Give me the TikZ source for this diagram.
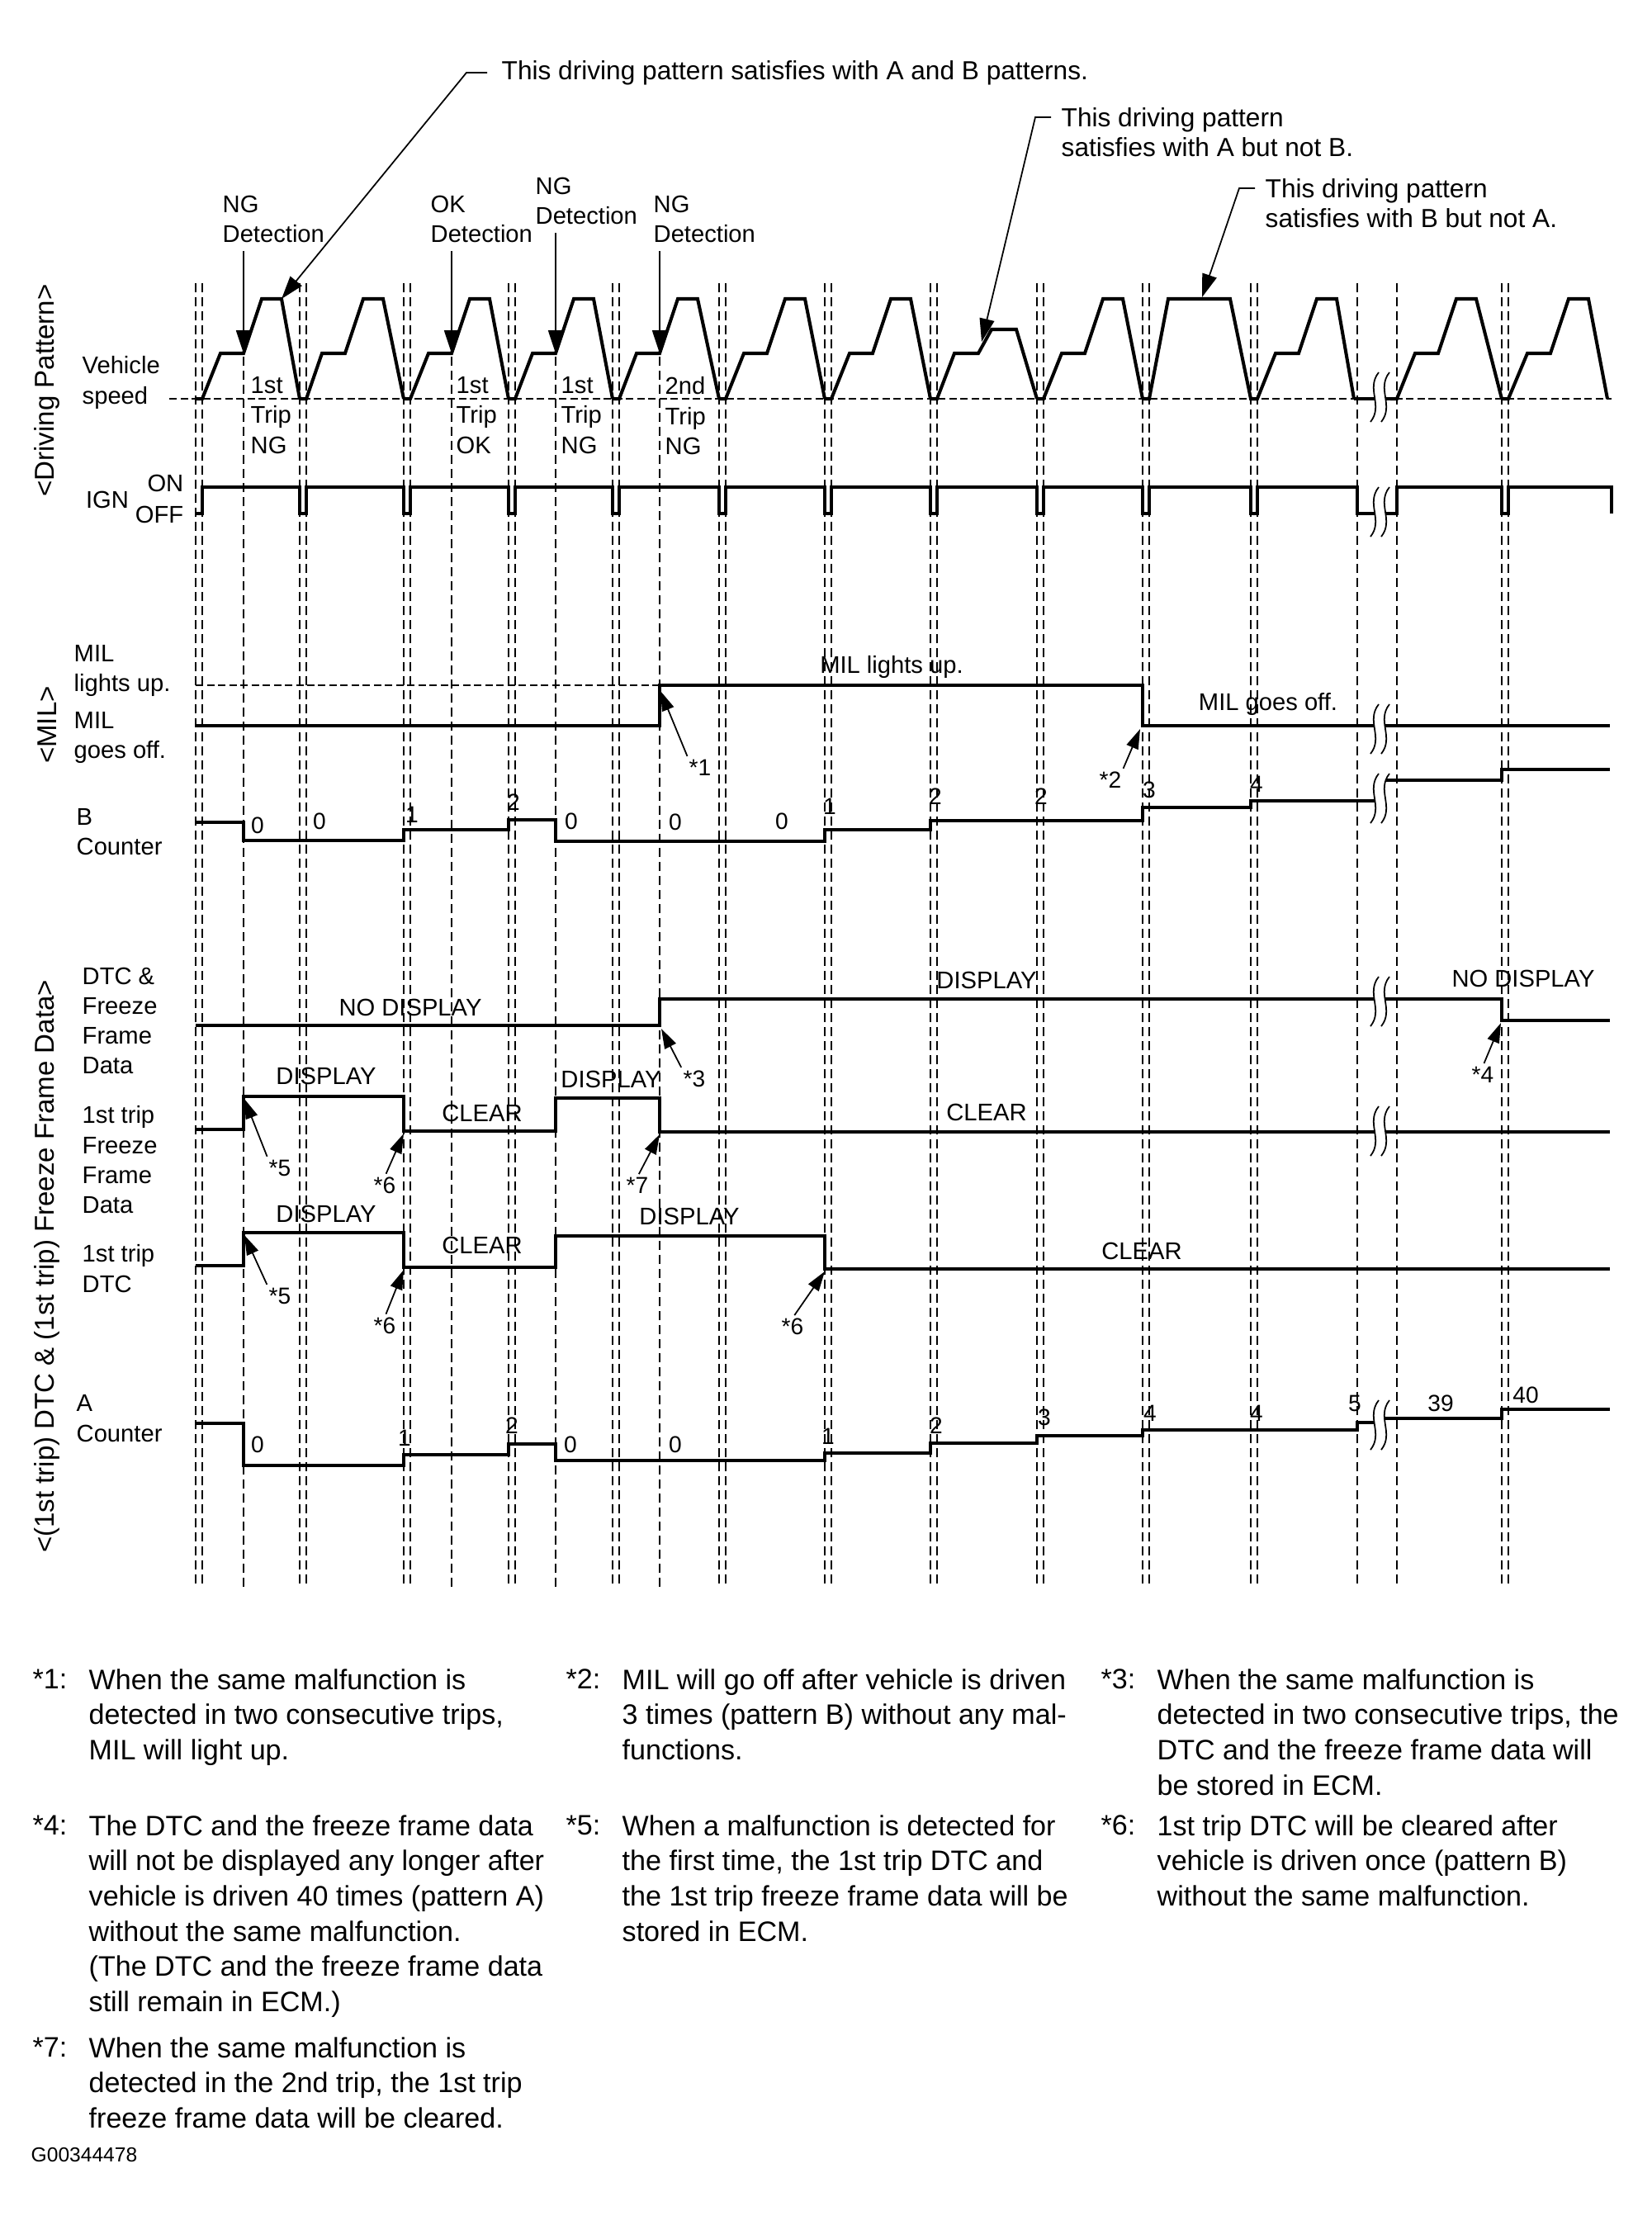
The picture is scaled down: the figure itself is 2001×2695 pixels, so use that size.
\documentclass[tikz,border=0pt]{standalone}
\usepackage{fontspec}
\setmainfont{Liberation Sans}
\usepackage{xcolor}
\usetikzlibrary{arrows.meta}
\definecolor{encre}{HTML}{000000}
\tikzset{
  signal/.style={line width=1.15pt, color=encre, line join=miter},
  repere/.style={line width=0.45pt, color=encre, dash pattern=on 1.1mm off 0.6mm},
  niveau/.style={line width=0.55pt, color=encre, dash pattern=on 0.9mm off 0.45mm},
  coupure/.style={line width=0.5pt, color=encre},
  fleche/.style={-{Triangle[length=2.8mm, width=1.8mm]}, line width=0.5pt, color=encre},
  flechefine/.style={-{Triangle[length=2.4mm, width=1.5mm]}, line width=0.5pt, color=encre},
  etiquette/.style={font=\fontsize{8.3}{10.3}\selectfont, text=encre, align=left, inner sep=0pt},
  valeur/.style={font=\fontsize{8}{10}\selectfont, text=encre, inner sep=0pt},
  legende/.style={font=\fontsize{9}{10.3}\selectfont, text=encre, align=left, inner sep=0pt},
  groupe/.style={font=\fontsize{9.4}{11}\selectfont, text=encre, rotate=90, inner sep=0pt},
  note/.style={font=\fontsize{9.7}{12.1}\selectfont, text=encre, align=left, inner sep=0pt, anchor=north west},
}

\begin{document}
\begin{tikzpicture}[x=0.1mm, y=-0.1mm]
    \useasboundingbox (0,0) rectangle (2001,2695);
    \fill[white] (0,0) rectangle (2001,2695);

    % Groupes
    \node[groupe] (gconduite) at (57,473) {<Driving Pattern>};
    \node[groupe] (gmil) at (57,878) {<MIL>};
    \node[groupe] (gdtc) at (57,1534) {<(1st trip) DTC \& (1st trip) Freeze Frame Data>};

    % Noms des lignes
    \node[etiquette, anchor=north west] (vitesse) at (99,431) {Vehicle\\speed};
    \node[etiquette] (ign) at (130,605) {IGN};
    \node[etiquette, anchor=east] (ignon) at (223,585) {ON};
    \node[etiquette, anchor=east] (ignoff) at (223,623) {OFF};
    \node[etiquette, anchor=north west] (milon) at (89,781) {MIL\\lights up.};
    \node[etiquette, anchor=north west] (miloff) at (89,862) {MIL\\goes off.};
    \node[etiquette, anchor=north west] (compteurb) at (92,979) {B\\Counter};
    \node[etiquette, anchor=north west] (dtc) at (99,1171) {DTC \&\\Freeze\\Frame\\Data};
    \node[etiquette, anchor=north west] (ffd) at (99,1339) {1st trip\\Freeze\\Frame\\Data};
    \node[etiquette, anchor=north west] (dtcun) at (99,1507) {1st trip\\DTC};
    \node[etiquette, anchor=north west] (compteura) at (92,1689) {A\\Counter};

    % Reperes verticaux
    \foreach \c in {241,367,493,620,746,875,1003,1131,1260,1388,1519,1823} {
      \draw[repere] (\c-4,343) -- (\c-4,1922);
      \draw[repere] (\c+4,343) -- (\c+4,1922);
    }
    \foreach \x in {295,547,673,799} \draw[repere] (\x,432) -- (\x,1922);
    \foreach \x in {1644,1692} \draw[repere] (\x,343) -- (\x,1922);

    % Vitesse du vehicule
    \draw[niveau] (205,483) -- (1952,483);
    \foreach \s/\m/\e in {245/295/363, 371/418/489, 497/547/616, 624/673/742, 750/799/871,
        879/929/999, 1007/1057/1127, 1264/1314/1384, 1523/1573/1640, 1692/1742/1819, 1827/1878/1947}
      \draw[signal] (\s-8,483) -- (\s,483) -- (\m-28,428) -- (\m,428) -- (\m+22,362) -- (\m+46,362) -- (\e,483);
    \draw[signal] (1127,483) -- (1135,483) -- (1156,428) -- (1185,428) -- (1201,399) -- (1231,399) -- (1256,483);
    \draw[signal] (1384,483) -- (1392,483) -- (1415,362) -- (1490,362) -- (1515,483) -- (1523,483);
    \draw[signal] (1640,483) -- (1692,483);

    % Contact
    \draw[signal] (237,622) -- (245,622) -- (245,590)
      \foreach \c in {367,493,620,746,875,1003,1131,1260,1388,1519} { -- (\c-4,590) -- (\c-4,622) -- (\c+4,622) -- (\c+4,590) }
      -- (1644,590) -- (1644,622) -- (1692,622) -- (1692,590) -- (1819,590) -- (1819,622)
      -- (1827,622) -- (1827,590) -- (1952,590) -- (1952,622);

    % MIL
    \draw[niveau] (237,830) -- (799,830);
    \draw[signal] (237,879) -- (799,879) -- (799,830) -- (1384,830) -- (1384,879) -- (1950,879);

    % Compteur B
    \draw[signal] (237,996) -- (295,996) -- (295,1018) -- (489,1018) -- (489,1005) -- (616,1005)
      -- (616,993) -- (673,993) -- (673,1019) -- (999,1019) -- (999,1005) -- (1127,1005) -- (1127,994)
      -- (1384,994) -- (1384,978) -- (1515,978) -- (1515,970) -- (1670,970) -- (1670,945)
      -- (1819,945) -- (1819,932) -- (1950,932);

    % DTC et donnees figees
    \draw[signal] (237,1242) -- (799,1242) -- (799,1210) -- (1819,1210) -- (1819,1236) -- (1950,1236);
    \draw[signal] (237,1368) -- (295,1368) -- (295,1328) -- (489,1328) -- (489,1370) -- (673,1370)
      -- (673,1330) -- (799,1330) -- (799,1371) -- (1950,1371);
    \draw[signal] (237,1533) -- (295,1533) -- (295,1493) -- (489,1493) -- (489,1535) -- (673,1535)
      -- (673,1497) -- (999,1497) -- (999,1537) -- (1950,1537);

    % Compteur A
    \draw[signal] (237,1724) -- (295,1724) -- (295,1775) -- (489,1775) -- (489,1762) -- (616,1762)
      -- (616,1749) -- (673,1749) -- (673,1769) -- (999,1769) -- (999,1760) -- (1127,1760) -- (1127,1748)
      -- (1256,1748) -- (1256,1739) -- (1384,1739) -- (1384,1732) -- (1644,1732) -- (1644,1723)
      -- (1670,1723) -- (1670,1718) -- (1819,1718) -- (1819,1707) -- (1950,1707);

    % Coupures
    \foreach \y in {481,620,883,967,1213,1370,1726} {
      \fill[white] (1670,\y-30) .. controls (1654,\y-10) and (1676,\y+10) .. (1660,\y+30)
        -- (1673,\y+30) .. controls (1689,\y+10) and (1667,\y-10) .. (1683,\y-30) -- cycle;
      \draw[coupure] (1670,\y-30) .. controls (1654,\y-10) and (1676,\y+10) .. (1660,\y+30);
      \draw[coupure] (1683,\y-30) .. controls (1667,\y-10) and (1689,\y+10) .. (1673,\y+30);
    }

    % Valeurs des compteurs
    \foreach \x/\y/\v [count=\i] in {312/1000/0, 387/995/0, 499/987/1, 622/972/2, 692/995/0, 818/996/0,
        947/995/0, 1005/977/1, 1133/965/2, 1261/965/2, 1392/957/3, 1522/950/4}
      \node[valeur] (b\i) at (\x,\y) {\v};
    \foreach \x/\y/\v [count=\i] in {312/1750/0, 490/1742/1, 620/1727/2, 691/1750/0, 818/1750/0,
        1003/1740/1, 1134/1727/2, 1265/1717/3, 1393/1712/4, 1522/1712/4, 1641/1700/5, 1745/1700/39, 1848/1690/40}
      \node[valeur] (a\i) at (\x,\y) {\v};

    % Etats
    \node[etiquette] (lumon) at (1080,808) {MIL lights up.};
    \node[etiquette] (lumoff) at (1536,853) {MIL goes off.};
    \node[etiquette] (dtc1) at (497,1220) {NO DISPLAY};
    \node[etiquette] (dtc2) at (1195,1187) {DISPLAY};
    \node[etiquette] (dtc3) at (1845,1185) {NO DISPLAY};
    \node[etiquette] (ffd1) at (395,1303) {DISPLAY};
    \node[etiquette] (ffd2) at (584,1348) {CLEAR};
    \node[etiquette] (ffd3) at (740,1307) {DISPLAY};
    \node[etiquette] (ffd4) at (1195,1347) {CLEAR};
    \node[etiquette] (dun1) at (395,1470) {DISPLAY};
    \node[etiquette] (dun2) at (584,1508) {CLEAR};
    \node[etiquette] (dun3) at (835,1473) {DISPLAY};
    \node[etiquette] (dun4) at (1383,1515) {CLEAR};

    % Trajets
    \node[etiquette, anchor=north west] (trajet1) at (303,456) {1st\\Trip\\NG};
    \node[etiquette, anchor=north west] (trajet2) at (552,456) {1st\\Trip\\OK};
    \node[etiquette, anchor=north west] (trajet3) at (679,456) {1st\\Trip\\NG};
    \node[etiquette, anchor=north west] (trajet4) at (805,456) {2nd\\Trip\\NG};

    % Detections
    \node[etiquette, anchor=north west] (ng1) at (269,236) {NG\\Detection};
    \node[etiquette, anchor=north west] (ok1) at (521,236) {OK\\Detection};
    \node[etiquette, anchor=north west] (ng2) at (648,214) {NG\\Detection};
    \node[etiquette, anchor=north west] (ng3) at (791,236) {NG\\Detection};
    \foreach \n/\x in {ng1/295, ok1/547, ng2/673, ng3/799} {
      \coordinate (p\n) at (\x,428);
      \draw[fleche, shorten <=1mm] (\n.south -| p\n) -- (p\n);
    }

    % Motifs de conduite
    \node[legende, anchor=west] (motifab) at (607,88) {This driving pattern satisfies with A and B patterns.};
    \coordinate (pointeab) at (341,362);
    \draw[fleche] ([xshift=-1.7mm]motifab.west) -- ++(-2.5mm,0) -- (pointeab);
    \node[legende, anchor=north west] (motifa) at (1285,130) {This driving pattern\\satisfies with A but not B.};
    \coordinate (pointea) at (1189,414);
    \draw[fleche] ([shift={(-1.2mm,-1.2mm)}]motifa.north west) -- ++(-1.9mm,0) -- (pointea);
    \node[legende, anchor=north west] (motifb) at (1532,216) {This driving pattern\\satisfies with B but not A.};
    \coordinate (pointeb) at (1456,360);
    \draw[fleche] ([shift={(-1.2mm,-1.2mm)}]motifb.north west) -- ++(-1.9mm,0) -- (pointeb);

    % Renvois
    \foreach \n/\x/\y/\t/\px/\py/\a in {e1/848/930/*1/800/837/north west, e2/1345/945/*2/1381/883/north east,
        e3/841/1307/*3/801/1246/north west, e4/1796/1302/*4/1818/1239/north,
        e5/339/1415/*5/296/1331/north west, e6/466/1436/*6/489/1373/north,
        e7/772/1436/*7/799/1374/north, e8/339/1570/*5/296/1496/north west,
        e9/466/1606/*6/489/1538/north, e10/960/1607/*6/999/1540/north} {
      \node[valeur] (\n) at (\x,\y) {\t};
      \coordinate (c\n) at (\px,\py);
      \draw[flechefine, shorten <=0.4mm] (\n.\a) -- (c\n);
    }

    % Notes
    \node[note] (n1) at (107,2021) {When the same malfunction is\\detected in two consecutive trips,\\MIL will light up.};
    \node[note] (n2) at (753,2021) {MIL will go off after vehicle is driven\\3 times (pattern B) without any mal-\\functions.};
    \node[note] (n3) at (1401,2021) {When the same malfunction is\\detected in two consecutive trips, the\\DTC and the freeze frame data will\\be stored in ECM.};
    \node[note] (n4) at (107,2198) {The DTC and the freeze frame data\\will not be displayed any longer after\\vehicle is driven 40 times (pattern A)\\without the same malfunction.\\(The DTC and the freeze frame data\\still remain in ECM.)};
    \node[note] (n5) at (753,2198) {When a malfunction is detected for\\the first time, the 1st trip DTC and\\the 1st trip freeze frame data will be\\stored in ECM.};
    \node[note] (n6) at (1401,2198) {1st trip DTC will be cleared after\\vehicle is driven once (pattern B)\\without the same malfunction.};
    \node[note] (n7) at (107,2467) {When the same malfunction is\\detected in the 2nd trip, the 1st trip\\freeze frame data will be cleared.};
    \foreach \i in {1,...,7}
      \node[note] (r\i) at ([xshift=-6.8mm]n\i.north west) {*\i:};
    \node[font=\fontsize{7}{8}\selectfont, text=encre, inner sep=0pt, anchor=west] (code) at (37,2610) {G00344478};
\end{tikzpicture}
\end{document}
